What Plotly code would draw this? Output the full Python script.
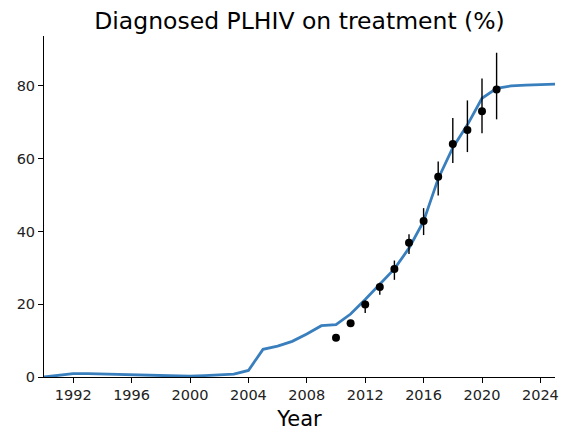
import plotly.graph_objects as go

# Model estimate (line)
years = list(range(1990, 2026))
model_pct = [0.0, 0.5, 0.9, 0.9, 0.8, 0.7, 0.5, 0.4, 0.3, 0.2, 0.2, 0.4, 0.6, 0.8,
             1.8, 7.6, 8.5, 9.8, 11.8, 14.1, 14.4, 17.3, 21.3, 25.4, 29.7, 35.4,
             42.8, 54.5, 63.0, 69.3, 76.6, 79.3, 80.0, 80.2, 80.4, 80.5]

# Observed data (points with error bars)
obs_years = [2010, 2011, 2012, 2013, 2014, 2015, 2016, 2017, 2018, 2019, 2020, 2021]
obs_pct = [10.8, 14.8, 19.9, 24.7, 29.7, 36.9, 42.9, 55.0, 64.0, 67.9, 73.0, 79.0]
obs_low = [10.8, 14.2, 17.6, 22.6, 26.7, 33.8, 39.0, 49.9, 58.8, 61.8, 67.0, 70.8]
obs_high = [10.8, 15.3, 21.0, 25.9, 32.0, 39.2, 46.4, 59.2, 71.2, 76.0, 82.0, 89.1]

err_plus = [h - v for h, v in zip(obs_high, obs_pct)]
err_minus = [v - l for v, l in zip(obs_pct, obs_low)]

fig = go.Figure()
fig.add_trace(go.Scatter(
    x=years, y=model_pct, mode="lines",
    line=dict(color="#3a7fbd", width=2.8),
    showlegend=False, cliponaxis=False,
))
fig.add_trace(go.Scatter(
    x=obs_years, y=obs_pct, mode="markers",
    marker=dict(color="black", size=8),
    error_y=dict(type="data", symmetric=False, array=err_plus, arrayminus=err_minus,
                 color="black", thickness=1.4, width=0),
    showlegend=False,
))

axis_common = dict(
    showgrid=False, zeroline=False, showline=True, linecolor="black", linewidth=1,
    ticks="outside", ticklen=5, tickwidth=1, tickcolor="black",
    tickfont=dict(family="DejaVu Sans", size=14.5, color="#222"),
)
fig.update_layout(
    width=561, height=434,
    margin=dict(l=44, r=6, t=36, b=57, autoexpand=False),
    paper_bgcolor="white", plot_bgcolor="white",
    title=dict(text="Diagnosed PLHIV on treatment (%)", xref="paper", x=0.5, xanchor="center",
               y=0.953, yanchor="middle",
               font=dict(family="DejaVu Sans", size=23.5, color="black")),
    xaxis=dict(range=[1990, 2025], tickvals=list(range(1992, 2025, 4)),
               title=dict(text="Year", font=dict(family="DejaVu Sans", size=21, color="black"),
                          standoff=8),
               **axis_common),
    yaxis=dict(range=[0, 93.7], tickvals=[0, 20, 40, 60, 80], **axis_common),
)

fig.write_html("out.html", config={"displayModeBar": False},
               post_script="document.body.style.margin='0';")
